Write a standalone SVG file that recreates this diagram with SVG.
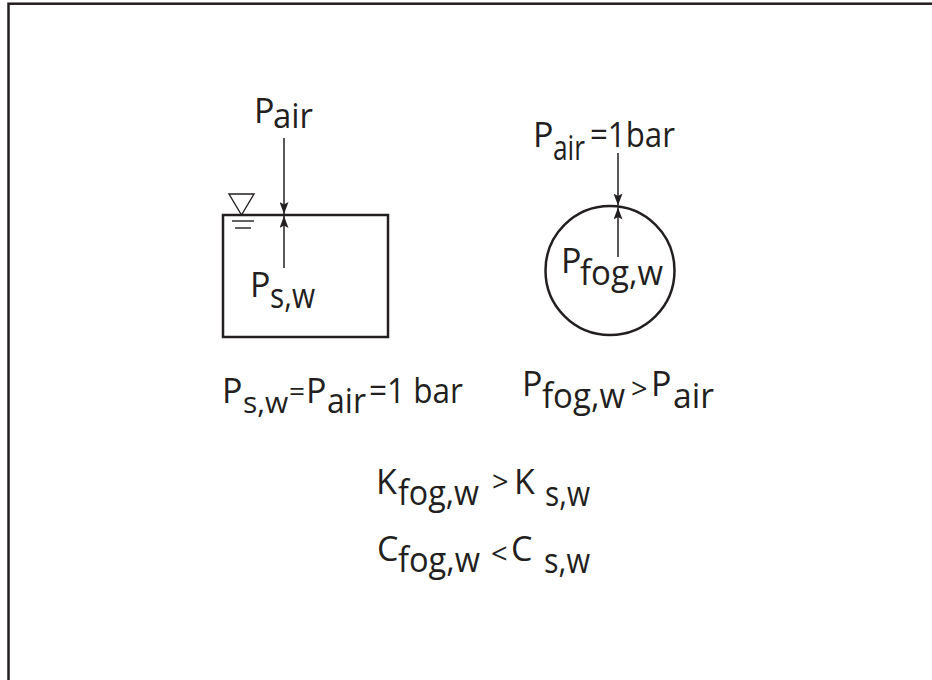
<svg xmlns="http://www.w3.org/2000/svg" width="932" height="680" viewBox="0 0 932 680">
<style>
.t{font-family:"Open Sans","Liberation Sans",sans-serif;font-size:34px;fill:#231f20}
.op{font-size:29px}
.thick{fill:none;stroke:#231f20;stroke-width:2.5}
.thin{fill:none;stroke:#231f20;stroke-width:1.4}
.arr{fill:none;stroke:#231f20;stroke-width:1.5;marker-end:url(#ah)}
</style>
<defs>
<marker id="ah" viewBox="0 0 12 9" refX="12" refY="4.5" markerWidth="12" markerHeight="9" markerUnits="userSpaceOnUse" orient="auto">
<path d="M0,0 L12,4.5 L0,9 L2.5,4.5 z" fill="#231f20"/>
</marker>
</defs>
<rect width="932" height="680" fill="#fff"/>
<rect id="frame" x="8.5" y="3.7" width="940" height="700" fill="none" stroke="#231f20" stroke-width="2.5"/>
<g id="tank">
<rect class="thick" x="223" y="215" width="165" height="122"/>
<polygon class="thin" points="229,194 254,194 241.5,215"/>
<line class="thin" x1="232" y1="221" x2="254" y2="221"/>
<line class="thin" x1="235" y1="228" x2="251" y2="228"/>
</g>
<g id="fog">
<circle class="thick" cx="610" cy="270.5" r="64.5"/>
</g>
<g id="connectors">
<line class="arr" x1="284" y1="138" x2="284" y2="214"/>
<line class="arr" x1="284" y1="268" x2="284" y2="216"/>
<line class="arr" x1="618" y1="153" x2="618" y2="205.5"/>
<line class="arr" x1="618" y1="257" x2="618" y2="207.5"/>
</g>
<g id="label-pair-left">
<text class="t"><tspan x="254" y="123">P</tspan><tspan x="273" y="128" textLength="40" lengthAdjust="spacingAndGlyphs">air</tspan></text>
</g>
<g id="label-psw">
<text class="t"><tspan x="250" y="297">P</tspan><tspan x="270" y="308" textLength="45" lengthAdjust="spacingAndGlyphs">s,w</tspan></text>
</g>
<g id="label-pair-right">
<text class="t"><tspan x="533" y="147">P</tspan><tspan x="553" y="160" textLength="32" lengthAdjust="spacingAndGlyphs">air</tspan><tspan x="590" y="147" textLength="85" lengthAdjust="spacingAndGlyphs">=1bar</tspan></text>
</g>
<g id="label-pfog">
<text class="t"><tspan x="561" y="273">P</tspan><tspan x="580" y="285" textLength="83" lengthAdjust="spacingAndGlyphs">fog,w</tspan></text>
</g>
<g id="eq1">
<text class="t"><tspan x="222" y="403">P</tspan><tspan x="243" y="413" style="font-size:30px">s,w</tspan><tspan x="289" y="401" style="font-size:28px">=</tspan><tspan x="306" y="403">P</tspan><tspan x="327" y="413" textLength="39" lengthAdjust="spacingAndGlyphs">air</tspan><tspan x="369" y="403" textLength="94" lengthAdjust="spacingAndGlyphs">=1 bar</tspan></text>
</g>
<g id="eq2">
<text class="t"><tspan x="522" y="396">P</tspan><tspan x="542" y="408" textLength="83" lengthAdjust="spacingAndGlyphs">fog,w</tspan><tspan class="op" x="631" y="399">&gt;</tspan><tspan x="651" y="396">P</tspan><tspan x="673" y="408" textLength="41" lengthAdjust="spacingAndGlyphs">air</tspan></text>
</g>
<g id="eq3">
<text class="t"><tspan x="376" y="494">K</tspan><tspan x="398" y="505" textLength="81" lengthAdjust="spacingAndGlyphs">fog,w</tspan><tspan class="op" x="492" y="492">&gt;</tspan><tspan x="514" y="494">K</tspan><tspan x="545" y="506" textLength="45" lengthAdjust="spacingAndGlyphs">s,w</tspan></text>
</g>
<g id="eq4">
<text class="t"><tspan x="377" y="561">C</tspan><tspan x="398" y="572" textLength="82" lengthAdjust="spacingAndGlyphs">fog,w</tspan><tspan class="op" x="491" y="564">&lt;</tspan><tspan x="511" y="561">C</tspan><tspan x="544" y="573" textLength="46" lengthAdjust="spacingAndGlyphs">s,w</tspan></text>
</g>
</svg>
